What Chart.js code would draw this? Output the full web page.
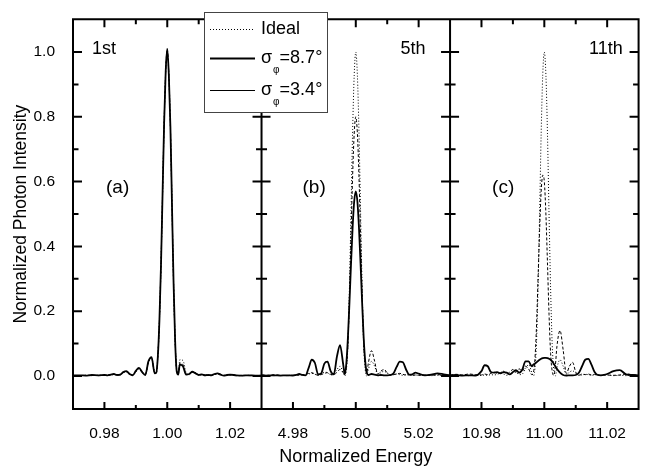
<!DOCTYPE html>
<html>
<head>
<meta charset="utf-8">
<script src="https://cdn.jsdelivr.net/npm/chart.js@4.4.1/dist/chart.umd.min.js"></script>
<style>
html, body { margin: 0; padding: 0; background: #fff; overflow: hidden; }
#wrap { width: 648px; height: 466px; }
</style>
</head>
<body>
<div id="wrap"><canvas id="grafico" width="648" height="466"></canvas></div>
<script>
// offsets from the harmonic centre, in units of 0.001 (normalized energy)
const offsets = [
  -30, -28, -26, -24, -22,
  -20, -19, -18, -17, -16, -15, -14, -13, -12, -11, -10, -9, -8, -7, -6, -5, -4,
  -3.5, -3, -2.5, -2, -1.5, -1, -0.5, 0, 0.5, 1, 1.5, 2, 2.5, 3, 3.5,
  4, 5, 6, 7, 8, 9, 10, 11, 12, 13, 14, 15, 16, 17, 18, 19, 20,
  22, 24, 26, 28, 30
];

const centers = [1, 5, 11];
const orderLabels = ['1st', '5th', '11th'];
const panelTags = ['(a)', '(b)', '(c)'];

const xRanges = [[0.97, 1.03], [4.97, 5.03], [10.97, 11.03]];
const xTicks = [[0.98, 1.00, 1.02], [4.98, 5.00, 5.02], [10.98, 11.00, 11.02]];
const yRange = [-0.102, 1.101];
const yTicks = [0, 0.2, 0.4, 0.6, 0.8, 1.0];

// legend text: [main, subscript, rest]
const seriesParts = [['Ideal'], ['σ', 'φ', '=8.7°'], ['σ', 'φ', '=3.4°']];

// 1st harmonic
const ideal1 = [
  0.001, 0.001, 0.002, 0.001, 0.002,
  0.002, 0.002, 0.003, 0.004, 0.003, 0.004, 0.01, 0.012, 0.005, 0.003, 0.012, 0.022, 0.01, 0.004, 0.04, 0.055, 0.012,
  0.01, 0.06, 0.17, 0.34, 0.56, 0.78, 0.94, 1.0, 0.93, 0.77, 0.53, 0.29, 0.11, 0.02, 0.01,
  0.05, 0.048, 0.01, 0.004, 0.012, 0.01, 0.004, 0.003, 0.004, 0.002, 0.002, 0.005, 0.006, 0.004, 0.002, 0.002, 0.003,
  0.001, 0.001, 0.002, 0.001, 0.001
];
const wide1 = [
  0.001, 0.002, 0.001, 0.003, 0.002,
  0.003, 0.002, 0.004, 0.006, 0.003, 0.004, 0.012, 0.015, 0.006, 0.002, 0.016, 0.025, 0.012, 0.003, 0.045, 0.058, 0.008,
  0.01, 0.06, 0.17, 0.34, 0.56, 0.78, 0.94, 1.01, 0.93, 0.77, 0.53, 0.29, 0.11, 0.015, 0.004,
  0.035, 0.03, 0.004, 0.006, 0.013, 0.008, 0.003, 0.005, 0.002, 0.003, 0.002, 0.006, 0.008, 0.004, 0.001, 0.003, 0.004,
  0.002, 0.001, 0.002, 0.001, 0.001
];
const narrow1 = [
  0.002, 0.001, 0.002, 0.002, 0.001,
  0.002, 0.003, 0.003, 0.005, 0.004, 0.003, 0.01, 0.014, 0.007, 0.003, 0.014, 0.024, 0.013, 0.004, 0.043, 0.056, 0.01,
  0.01, 0.06, 0.17, 0.34, 0.56, 0.78, 0.94, 1.01, 0.93, 0.77, 0.53, 0.29, 0.11, 0.016, 0.006,
  0.04, 0.035, 0.006, 0.005, 0.012, 0.009, 0.004, 0.004, 0.003, 0.002, 0.003, 0.005, 0.007, 0.005, 0.002, 0.002, 0.003,
  0.001, 0.002, 0.001, 0.001, 0.002
];

// 5th harmonic
const ideal2 = [
  0.001, 0.002, 0.001, 0.002, 0.001,
  0.003, 0.002, 0.004, 0.003, 0.002, 0.006, 0.008, 0.005, 0.002, 0.006, 0.012, 0.01, 0.003, 0.008, 0.02, 0.03, 0.01,
  0.0, 0.02, 0.1, 0.28, 0.52, 0.76, 0.93, 1.0, 0.93, 0.76, 0.52, 0.28, 0.1, 0.02, 0.0,
  0.02, 0.045, 0.03, 0.005, 0.01, 0.015, 0.008, 0.002, 0.004, 0.006, 0.004, 0.002, 0.004, 0.003, 0.002, 0.003, 0.002,
  0.002, 0.001, 0.002, 0.001, 0.002
];
const wide2 = [
  0.002, 0.001, 0.002, 0.001, 0.002,
  0.001, 0.003, 0.006, 0.003, 0.002, 0.025, 0.05, 0.04, 0.005, 0.008, 0.038, 0.044, 0.015, 0.005, 0.06, 0.095, 0.035,
  0.005, 0.04, 0.12, 0.23, 0.35, 0.46, 0.54, 0.57, 0.54, 0.46, 0.35, 0.23, 0.12, 0.045, 0.01,
  0.003, 0.006, 0.004, 0.002, 0.003, 0.002, 0.002, 0.003, 0.008, 0.028, 0.044, 0.042, 0.02, 0.004, 0.005, 0.01, 0.007,
  0.002, 0.004, 0.008, 0.005, 0.002
];
const narrow2 = [
  0.003, 0.002, 0.004, 0.002, 0.001,
  0.002, 0.004, 0.002, 0.003, 0.005, 0.008, 0.01, 0.006, 0.002, 0.004, 0.008, 0.01, 0.005, 0.003, 0.012, 0.02, 0.01,
  0.005, 0.03, 0.1, 0.25, 0.44, 0.62, 0.75, 0.8, 0.75, 0.62, 0.44, 0.26, 0.11, 0.035, 0.01,
  0.04, 0.078, 0.045, 0.006, 0.015, 0.02, 0.01, 0.003, 0.004, 0.006, 0.008, 0.005, 0.003, 0.004, 0.002, 0.003, 0.002,
  0.003, 0.002, 0.004, 0.003, 0.002
];

// 11th harmonic
const ideal3 = [
  0.002, 0.001, 0.002, 0.001, 0.002,
  0.002, 0.003, 0.002, 0.004, 0.003, 0.005, 0.008, 0.006, 0.002, 0.005, 0.01, 0.012, 0.004, 0.006, 0.022, 0.035, 0.012,
  0.0, 0.02, 0.1, 0.27, 0.5, 0.75, 0.93, 1.0, 0.93, 0.75, 0.5, 0.27, 0.1, 0.02, 0.0,
  0.025, 0.05, 0.03, 0.004, 0.012, 0.016, 0.008, 0.002, 0.003, 0.005, 0.004, 0.002, 0.003, 0.004, 0.002, 0.002, 0.003,
  0.001, 0.002, 0.001, 0.002, 0.001
];
const wide3 = [
  0.002, 0.003, 0.001, 0.002, 0.001,
  0.015, 0.033, 0.03, 0.012, 0.01, 0.012, 0.008, 0.012, 0.01, 0.005, 0.012, 0.018, 0.01, 0.02, 0.045, 0.045, 0.03,
  0.035, 0.038, 0.042, 0.046, 0.05, 0.053, 0.055, 0.056, 0.056, 0.055, 0.053, 0.05, 0.045, 0.038, 0.03,
  0.022, 0.01, 0.003, 0.001, 0.002, 0.002, 0.003, 0.01, 0.03, 0.05, 0.053, 0.035, 0.012, 0.003, 0.002, 0.003, 0.006,
  0.015, 0.018, 0.005, 0.003, 0.002
];
const narrow3 = [
  0.002, 0.005, 0.003, 0.006, 0.004,
  0.003, 0.006, 0.004, 0.008, 0.012, 0.008, 0.01, 0.015, 0.006, 0.012, 0.02, 0.012, 0.022, 0.015, 0.03, 0.022, 0.004,
  0.01, 0.05, 0.15, 0.3, 0.45, 0.57, 0.62, 0.6, 0.5, 0.35, 0.19, 0.07, 0.015, 0.002, 0.03,
  0.09, 0.14, 0.08, 0.008, 0.03, 0.042, 0.012, 0.002, 0.006, 0.004, 0.006, 0.003, 0.005, 0.004, 0.002, 0.004, 0.003,
  0.002, 0.003, 0.006, 0.004, 0.002
];

const xIds = ['x1', 'x2', 'x3'];
const panelSeries = [
  [ideal1, wide1, narrow1],
  [ideal2, wide2, narrow2],
  [ideal3, wide3, narrow3]
];

// line look for Ideal, 8.7°, 3.4°
const seriesStyle = [
  { width: 1, dash: [1, 2] },
  { width: 1.8, dash: [] },
  { width: 1, dash: [3, 2] }
];
const legendStyle = [
  { width: 1, dash: [1, 2] },
  { width: 2, dash: [] },
  { width: 1, dash: [] }
];

const FONT = '"Liberation Sans", Arial, Helvetica, sans-serif';
Chart.defaults.font.family = FONT;
Chart.defaults.color = '#000';

function toPoints(center, ys) {
  return ys.map((y, i) => ({ x: center + offsets[i] / 1000, y: y }));
}

// first dataset is drawn on top, so put the thick curve first
let datasets = [];
panelSeries.forEach((series, p) => {
  [1, 2, 0].forEach(s => {
    datasets.push({
      label: seriesParts[s].join(''),
      data: toPoints(centers[p], series[s]),
      xAxisID: xIds[p],
      yAxisID: 'y',
      borderColor: '#000',
      borderWidth: seriesStyle[s].width,
      borderDash: seriesStyle[s].dash,
      pointRadius: 0,
      fill: false,
      cubicInterpolationMode: 'monotone'
    });
  });
});

function xScale(p) {
  return {
    type: 'linear',
    position: 'bottom',
    stack: 'energy',
    stackWeight: 1,
    min: xRanges[p][0],
    max: xRanges[p][1],
    afterBuildTicks: s => { s.ticks = xTicks[p].map(v => ({ value: v })); },
    afterFit: s => { s.height = 57; },
    grid: { display: false },
    border: { display: false },
    ticks: {
      autoSkip: false,
      maxRotation: 0,
      padding: 7,
      font: { size: 15.5 },
      callback: v => v.toFixed(2)
    },
    title: {
      display: p === 1,
      text: 'Normalized Energy',
      font: { size: 18, lineHeight: 1 },
      padding: 0
    }
  };
}

// frame, dividers and inward / crossing tick marks
const framePlugin = {
  id: 'frame',
  afterDatasetsDraw(chart) {
    const ctx = chart.ctx;
    const area = chart.chartArea;
    const ys = chart.scales.y;
    const xs = xIds.map(id => chart.scales[id]);
    ctx.save();
    ctx.strokeStyle = '#000';
    ctx.lineWidth = 2;
    ctx.beginPath();
    ctx.moveTo(area.left - 1, area.top); ctx.lineTo(area.right + 1, area.top);
    ctx.moveTo(area.left - 1, area.bottom); ctx.lineTo(area.right + 1, area.bottom);
    xs.forEach(s => { ctx.moveTo(s.left, area.top); ctx.lineTo(s.left, area.bottom); });
    ctx.moveTo(area.right, area.top); ctx.lineTo(area.right, area.bottom);

    xs.forEach(s => {
      let major = s.ticks.map(t => t.value);
      let minor = major.slice(1).map((v, i) => (v + major[i]) / 2);
      major.forEach(v => {
        let px = s.getPixelForValue(v);
        ctx.moveTo(px, area.bottom); ctx.lineTo(px, area.bottom - 7);
        ctx.moveTo(px, area.top); ctx.lineTo(px, area.top + 8);
      });
      minor.forEach(v => {
        let px = s.getPixelForValue(v);
        ctx.moveTo(px, area.bottom); ctx.lineTo(px, area.bottom - 4);
        ctx.moveTo(px, area.top); ctx.lineTo(px, area.top + 5);
      });
    });

    let yMajor = ys.ticks.map(t => t.value);
    let yMinor = yMajor.slice(1).map((v, i) => (v + yMajor[i]) / 2);
    function yTick(v, len) {
      let py = ys.getPixelForValue(v);
      ctx.moveTo(xs[0].left, py); ctx.lineTo(xs[0].left + len, py);
      for (let k = 1; k < xs.length; k++) {
        ctx.moveTo(xs[k].left - len, py); ctx.lineTo(xs[k].left + len, py);
      }
      ctx.moveTo(area.right - len, py); ctx.lineTo(area.right, py);
    }
    yMajor.forEach(v => yTick(v, 9));
    yMinor.forEach(v => yTick(v, 5.5));
    ctx.stroke();

    // panel labels
    ctx.fillStyle = '#000';
    ctx.textBaseline = 'middle';
    ctx.textAlign = 'left';
    const orderDx = [19, 139, 139];
    const tagDx = [33, 41, 42];
    xs.forEach((s, p) => {
      ctx.font = '18px ' + FONT;
      ctx.fillText(orderLabels[p], s.left + orderDx[p], 49);
      ctx.font = '19px ' + FONT;
      ctx.fillText(panelTags[p], s.left + tagDx[p], 188);
    });
    ctx.restore();
  }
};

// boxed legend drawn over the top frame
const legendPlugin = {
  id: 'boxLegend',
  afterDraw(chart) {
    const ctx = chart.ctx;
    const bx = 204, by = 12, bw = 123, bh = 100;
    const rowY = [29, 58, 90];
    ctx.save();
    ctx.fillStyle = '#fff';
    ctx.fillRect(bx, by, bw, bh);
    ctx.strokeStyle = '#444';
    ctx.lineWidth = 1;
    ctx.strokeRect(bx + 0.5, by + 0.5, bw, bh);

    ctx.fillStyle = '#000';
    ctx.strokeStyle = '#000';
    ctx.textBaseline = 'middle';
    ctx.textAlign = 'left';
    seriesParts.forEach((parts, i) => {
      let y = rowY[i];
      ctx.beginPath();
      ctx.lineWidth = legendStyle[i].width;
      ctx.setLineDash(legendStyle[i].dash);
      ctx.moveTo(210, y + 0.5);
      ctx.lineTo(255, y + 0.5);
      ctx.stroke();
      ctx.setLineDash([]);

      let x = 261;
      ctx.font = '18px ' + FONT;
      ctx.fillText(parts[0], x, y);
      if (parts.length > 1) {
        x += ctx.measureText(parts[0]).width;
        ctx.font = '10px ' + FONT;
        ctx.fillText(parts[1], x + 1, y + 12);
        x += ctx.measureText(parts[1]).width + 1;
        ctx.font = '18px ' + FONT;
        ctx.fillText(parts[2], x, y);
      }
    });
    ctx.restore();
  }
};

let ctx = document.getElementById('grafico').getContext('2d');

let grafico = new Chart(ctx, {
  type: 'line',
  data: { datasets: datasets },
  options: {
    responsive: false,
    animation: false,
    layout: { padding: { left: 0, right: 1, top: 16, bottom: 0 } },
    plugins: {
      legend: { display: false },
      tooltip: { enabled: false }
    },
    scales: {
      x1: xScale(0),
      x2: xScale(1),
      x3: xScale(2),
      y: {
        type: 'linear',
        position: 'left',
        min: yRange[0],
        max: yRange[1],
        afterBuildTicks: s => { s.ticks = yTicks.map(v => ({ value: v })); },
        afterFit: s => { s.width = 73; },
        grid: { display: false },
        border: { display: false },
        ticks: {
          padding: 10,
          font: { size: 15.5 },
          callback: v => v.toFixed(1)
        },
        title: {
          display: true,
          text: 'Normalized Photon Intensity',
          font: { size: 17.5, lineHeight: 1 },
          padding: { top: 12, bottom: 0 }
        }
      }
    }
  },
  plugins: [framePlugin, legendPlugin]
});
</script>
</body>
</html>
